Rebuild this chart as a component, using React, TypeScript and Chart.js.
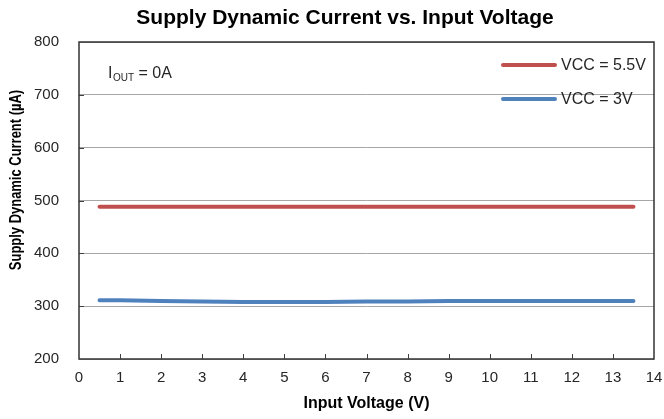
import React, { useEffect, useRef } from "react";
import { Chart, registerables } from "chart.js";

Chart.register(...registerables);

const xValues = [0.5, 1, 2, 3, 4, 5, 6, 7, 8, 9, 10, 11, 12, 13, 13.5];
const vcc55 = [488, 488, 488, 488, 488, 488, 488, 488, 488, 488, 488, 488, 488, 488, 488];
const vcc3 = [311, 311, 310, 309, 308, 308, 308, 309, 309, 310, 310, 310, 310, 310, 310];
const seriesLabels = ["VCC = 5.5V", "VCC = 3V"];
const seriesColors = ["#C0504D", "#4F81BD"];
const titleText = "Supply Dynamic Current vs. Input Voltage";
const xTitle = "Input Voltage (V)";
const yTitle = "Supply Dynamic Current (µA)";

const FONT = "'Liberation Sans', Arial, sans-serif";

const framePlugin = {
  id: "frame",
  afterDraw(chart: any) {
    const { ctx, chartArea } = chart;
    const { left, right, top, bottom } = chartArea;
    const xs = chart.scales.x;
    const ys = chart.scales.y;
    ctx.save();
    // ticks inward
    ctx.strokeStyle = "#404040";
    ctx.lineWidth = 1;
    for (let v = 1; v < 14; v++) {
      const px = Math.round(xs.getPixelForValue(v)) + 0.5;
      ctx.beginPath();
      ctx.moveTo(px, bottom);
      ctx.lineTo(px, bottom - 5);
      ctx.stroke();
    }
    for (let v = 300; v < 800; v += 100) {
      const py = Math.round(ys.getPixelForValue(v)) + 0.5;
      ctx.beginPath();
      ctx.moveTo(left, py);
      ctx.lineTo(left + 5, py);
      ctx.stroke();
    }
    // box
    ctx.strokeStyle = "#333333";
    ctx.lineWidth = 1.5;
    ctx.strokeRect(left, top, right - left, bottom - top);

    // legend
    const rows = [top + 23, top + 57];
    chart.data.datasets.forEach((ds: any, i: number) => {
      ctx.strokeStyle = ds.borderColor;
      ctx.lineWidth = 4;
      ctx.lineCap = "round";
      ctx.beginPath();
      ctx.moveTo(right - 151, rows[i]);
      ctx.lineTo(right - 99, rows[i]);
      ctx.stroke();
      ctx.fillStyle = "#262626";
      ctx.font = `16px ${FONT}`;
      ctx.textBaseline = "middle";
      ctx.textAlign = "left";
      ctx.fillText(ds.label, right - 93, rows[i] + 1);
    });

    // annotation I_OUT = 0A
    ctx.fillStyle = "#262626";
    ctx.textBaseline = "alphabetic";
    let x = left + 29;
    const y = top + 36;
    ctx.font = `16px ${FONT}`;
    ctx.fillText("I", x, y);
    x += ctx.measureText("I").width + 0.5;
    ctx.font = `10px ${FONT}`;
    ctx.fillText("OUT", x, y + 3);
    x += ctx.measureText("OUT").width;
    ctx.font = `16px ${FONT}`;
    ctx.fillText(" = 0A", x, y);

    // chart title
    ctx.font = `bold 21px ${FONT}`;
    ctx.fillStyle = "#000000";
    ctx.textAlign = "center";
    ctx.textBaseline = "middle";
    ctx.fillText(titleText, 345, 18);

    // y axis title (condensed)
    ctx.save();
    ctx.translate(17, 180);
    ctx.rotate(-Math.PI / 2);
    ctx.scale(0.81, 1);
    ctx.font = `bold 16px ${FONT}`;
    ctx.fillStyle = "#000000";
    ctx.textAlign = "center";
    ctx.textBaseline = "middle";
    ctx.fillText(yTitle, 0, 0);
    ctx.restore();

    ctx.restore();
  },
};

export default function App() {
  const ref = useRef<HTMLCanvasElement | null>(null);
  useEffect(() => {
    document.body.style.margin = "0";
    const canvas = ref.current;
    if (!canvas) return;
    const chart = new Chart(canvas, {
      type: "line",
      data: {
        datasets: [
          {
            label: seriesLabels[0],
            data: xValues.map((x, i) => ({ x, y: vcc55[i] })),
            borderColor: seriesColors[0],
            backgroundColor: seriesColors[0],
            borderWidth: 4,
            pointRadius: 0,
            borderCapStyle: "round",
            tension: 0,
          },
          {
            label: seriesLabels[1],
            data: xValues.map((x, i) => ({ x, y: vcc3[i] })),
            borderColor: seriesColors[1],
            backgroundColor: seriesColors[1],
            borderWidth: 4,
            pointRadius: 0,
            borderCapStyle: "round",
            tension: 0,
          },
        ],
      },
      options: {
        animation: false,
        responsive: false,
        maintainAspectRatio: false,
        layout: { padding: { left: 0, right: 10, top: 42, bottom: 0 } },
        plugins: {
          legend: { display: false },
          tooltip: { enabled: false },
          title: { display: false },
        },
        scales: {
          x: {
            type: "linear",
            min: 0,
            max: 14,
            afterFit: (s: any) => {
              s.height = 60;
              s.paddingLeft = 0;
              s.paddingRight = 0;
            },
            ticks: {
              stepSize: 1,
              color: "#262626",
              font: { family: FONT, size: 15 },
              padding: 10,
            },
            grid: { display: false, drawTicks: false },
            border: { display: false },
            title: {
              display: true,
              text: xTitle,
              color: "#000000",
              font: { family: FONT, size: 16, weight: "bold" },
              padding: { top: 0, bottom: 6 },
            },
          },
          y: {
            type: "linear",
            min: 200,
            max: 800,
            afterFit: (s: any) => {
              s.width = 79;
              s.paddingTop = 0;
              s.paddingBottom = 0;
            },
            ticks: {
              stepSize: 100,
              color: "#262626",
              font: { family: FONT, size: 15 },
              padding: 20,
            },
            grid: { color: "#a6a6a6", lineWidth: 1, drawTicks: false },
            border: { display: false },
            title: { display: false },
          },
        },
      },
      plugins: [framePlugin],
    } as any);
    return () => chart.destroy();
  }, []);
  return (
    <div style={{ width: 664, height: 419 }}>
      <canvas ref={ref} width={664} height={419} style={{ display: "block" }} />
    </div>
  );
}
